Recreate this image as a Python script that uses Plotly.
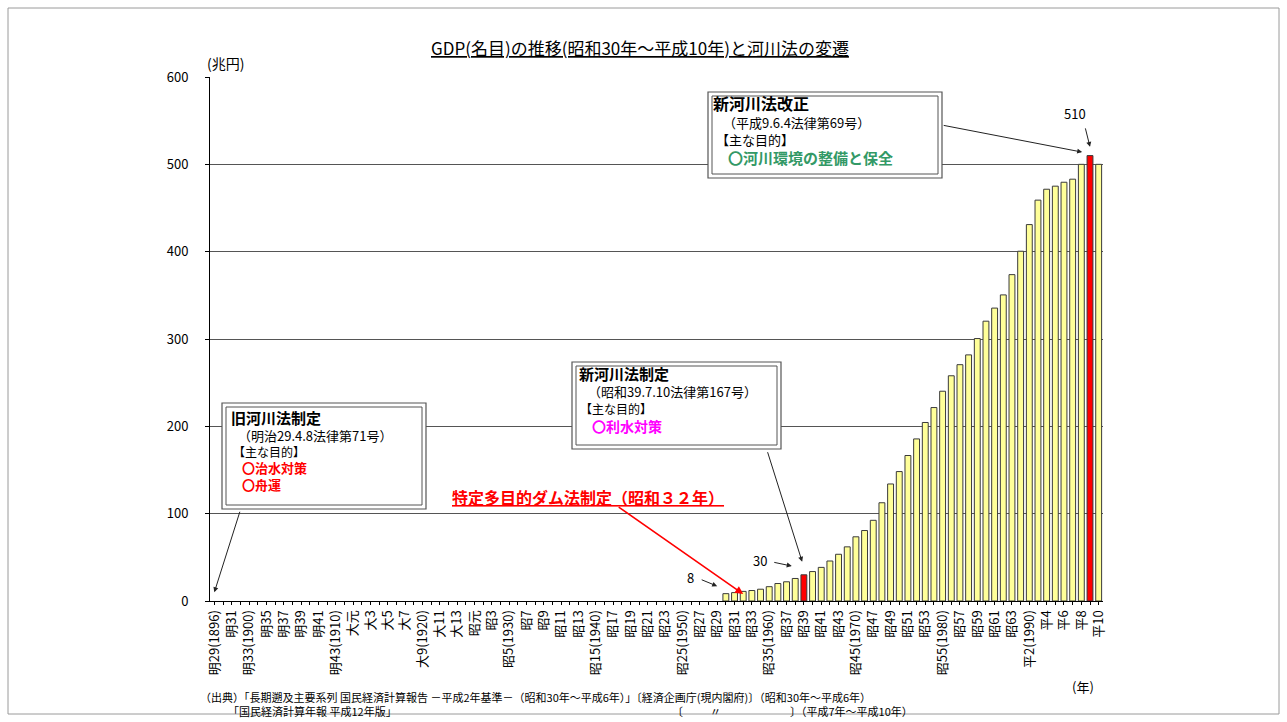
import plotly.graph_objects as go

# ---- data ----------------------------------------------------------------
first_year = 1896
last_year = 1998

gdp_years = list(range(1955, 1999))
gdp_values = [
    8.4, 9.6, 11.0, 12.0, 13.5, 16.4, 20.0, 22.0, 25.8, 30.0,
    33.7, 38.5, 45.8, 53.5, 62.0, 73.5, 80.7, 92.4, 112.5, 134.0,
    148.2, 166.6, 185.6, 204.4, 221.5, 240.2, 257.9, 270.6, 281.8, 300.5,
    320.4, 335.4, 350.5, 373.7, 400.5, 431.0, 459.0, 471.5, 475.0, 479.5,
    483.0, 500.0, 510.0, 500.0,
]
highlight_years = [1964, 1997]

tick_labels = [
    "明29(1896)", "明31", "明33(1900)", "明35", "明37", "明39", "明41", "明43(1910)",
    "大元", "大3", "大5", "大7", "大9(1920)", "大11", "大13", "昭元", "昭3",
    "昭5(1930)", "昭7", "昭9", "昭11", "昭13", "昭15(1940)", "昭17", "昭19",
    "昭21", "昭23", "昭25(1950)", "昭27", "昭29", "昭31", "昭33", "昭35(1960)",
    "昭37", "昭39", "昭41", "昭43", "昭45(1970)", "昭47", "昭49", "昭51", "昭53",
    "昭55(1980)", "昭57", "昭59", "昭61", "昭63", "平2(1990)", "平4", "平6",
    "平8", "平10",
]

FONT = "Noto Sans CJK JP"

# ---- plot geometry (pixels) ---------------------------------------------
W, H = 1287, 722
L, R, T, B = 210, 1103, 77, 601


def px(x):
    return (x - L) / (R - L)


def py(y):
    return (B - y) / (B - T)


all_years = list(range(first_year, last_year + 1))
tick_text = []
for i, yr in enumerate(all_years):
    tick_text.append(tick_labels[i // 2] if i % 2 == 0 else "")

bar_colors = ["#FF0000" if yr in highlight_years else "#FFFF99" for yr in gdp_years]

fig = go.Figure()
fig.add_trace(go.Bar(
    x=gdp_years,
    y=gdp_values,
    width=0.68,
    marker=dict(color=bar_colors, line=dict(color="#3a3a3a", width=1)),
    hoverinfo="x+y",
))

shapes = []
annotations = []

# outer frame of the chart
shapes.append(dict(type="rect", xref="paper", yref="paper",
                   x0=px(8), x1=px(1279), y0=py(714), y1=py(8),
                   line=dict(color="#9a9a9a", width=1)))


def text_at(x, y, s, size=12, color="#000", xanchor="left", bold=False):
    if bold:
        s = "<b>" + s + "</b>"
    annotations.append(dict(
        text=s, xref="paper", yref="paper", x=px(x), y=py(y),
        xanchor=xanchor, yanchor="middle", showarrow=False, align="left",
        font=dict(family=FONT, size=size, color=color),
    ))


# title and axis captions
text_at(640, 48, "<u>GDP(名目)の推移(昭和30年～平成10年)と河川法の変遷</u>",
        size=17, xanchor="center")
text_at(205, 63, "(兆円)", size=14)
text_at(1083, 686, "(年)", size=13, xanchor="center")


def double_box(x0, y0, x1, y1):
    shapes.append(dict(type="rect", xref="paper", yref="paper",
                       x0=px(x0), x1=px(x1), y0=py(y1), y1=py(y0),
                       fillcolor="white", line=dict(color="#555", width=1.2),
                       layer="above"))
    shapes.append(dict(type="rect", xref="paper", yref="paper",
                       x0=px(x0 + 4), x1=px(x1 - 4), y0=py(y1 - 4), y1=py(y0 + 4),
                       line=dict(color="#555", width=1), layer="above"))


def arrow(hx, hy, ax, ay, color="#222", width=1):
    annotations.append(dict(
        x=hx, y=hy, xref="x", yref="y", ax=ax, ay=ay, text="",
        showarrow=True, arrowhead=2, arrowsize=1, arrowwidth=width,
        arrowcolor=color,
    ))


# 旧河川法
double_box(222, 403, 426, 509)
text_at(229, 417, "旧河川法制定", size=15, bold=True)
text_at(236, 435, "（明治29.4.8法律第71号）", size=13)
text_at(231, 451, "【主な目的】", size=12)
text_at(240, 467, "〇治水対策", size=13, color="#FF0000", bold=True)
text_at(240, 484, "〇舟運", size=13, color="#FF0000", bold=True)
arrow(1896.0, 10, 26, -82)

# 新河川法制定
double_box(572, 362, 781, 449)
text_at(577, 374, "新河川法制定", size=15, bold=True)
text_at(586, 392, "（昭和39.7.10法律第167号）", size=13)
text_at(578, 408, "【主な目的】", size=12)
text_at(590, 426, "〇利水対策", size=14, color="#FF00FF", bold=True)
arrow(1963.8, 45, -35, -111)

# 新河川法改正
double_box(708, 92, 942, 178)
text_at(711, 103, "新河川法改正", size=16, bold=True)
text_at(721, 122, "（平成9.6.4法律第69号）", size=13)
text_at(714, 139, "【主な目的】", size=13)
text_at(726, 157, "〇河川環境の整備と保全", size=15, color="#339966", bold=True)
arrow(1996.1, 514, -140, -27)

# 特定多目的ダム法
text_at(450, 497, "<u>特定多目的ダム法制定（昭和３２年）</u>", size=16, color="#FF0000", bold=True)
arrow(1957.0, 8, -126, -88, color="#FF0000", width=1.6)

# value call-outs
text_at(1062, 114, "510", size=13)
arrow(1997.0, 520, -5, -20)
text_at(751, 560, "30", size=13)
arrow(1962.6, 40, -19, -4)
text_at(685, 577, "8", size=13)
arrow(1954.0, 17, -17, -7)

# source note
src_lines = [
    (198, 697, "（出典）「長期遡及主要系列 国民経済計算報告 －平成2年基準－（昭和30年～平成6年）」〔経済企画庁(現内閣府)〕（昭和30年～平成6年）"),
    (226, 711, "「国民経済計算年報 平成12年版」"),
    (670, 711, "〔"),
    (708, 711, "〃"),
    (788, 711, "〕（平成7年～平成10年）"),
]
for x, y, s in src_lines:
    text_at(x, y, s, size=11)

fig.update_layout(
    width=W, height=H,
    margin=dict(l=L, r=W - R, t=T, b=H - B),
    paper_bgcolor="white", plot_bgcolor="white",
    showlegend=False,
    font=dict(family=FONT, color="#000"),
    bargap=0.3,
    xaxis=dict(
        range=[first_year - 0.5, last_year + 0.5],
        tickmode="array", tickvals=all_years, ticktext=tick_text,
        tickangle=-90, tickfont=dict(family=FONT, size=13, color="#000"),
        ticks="outside", ticklen=3, tickcolor="#000",
        showline=True, linecolor="#000", linewidth=1,
        showgrid=False, zeroline=False, fixedrange=True,
    ),
    yaxis=dict(
        range=[0, 600], dtick=100, tickformat="d",
        tickfont=dict(family=FONT, size=13, color="#000"),
        ticks="outside", ticklen=4, tickcolor="#000",
        ticklabelstandoff=14,
        showline=True, linecolor="#000", linewidth=1,
        showgrid=True, gridcolor="#555", gridwidth=1,
        zeroline=False, fixedrange=True,
    ),
    shapes=shapes,
    annotations=annotations,
)

fig.write_html("out.html")
